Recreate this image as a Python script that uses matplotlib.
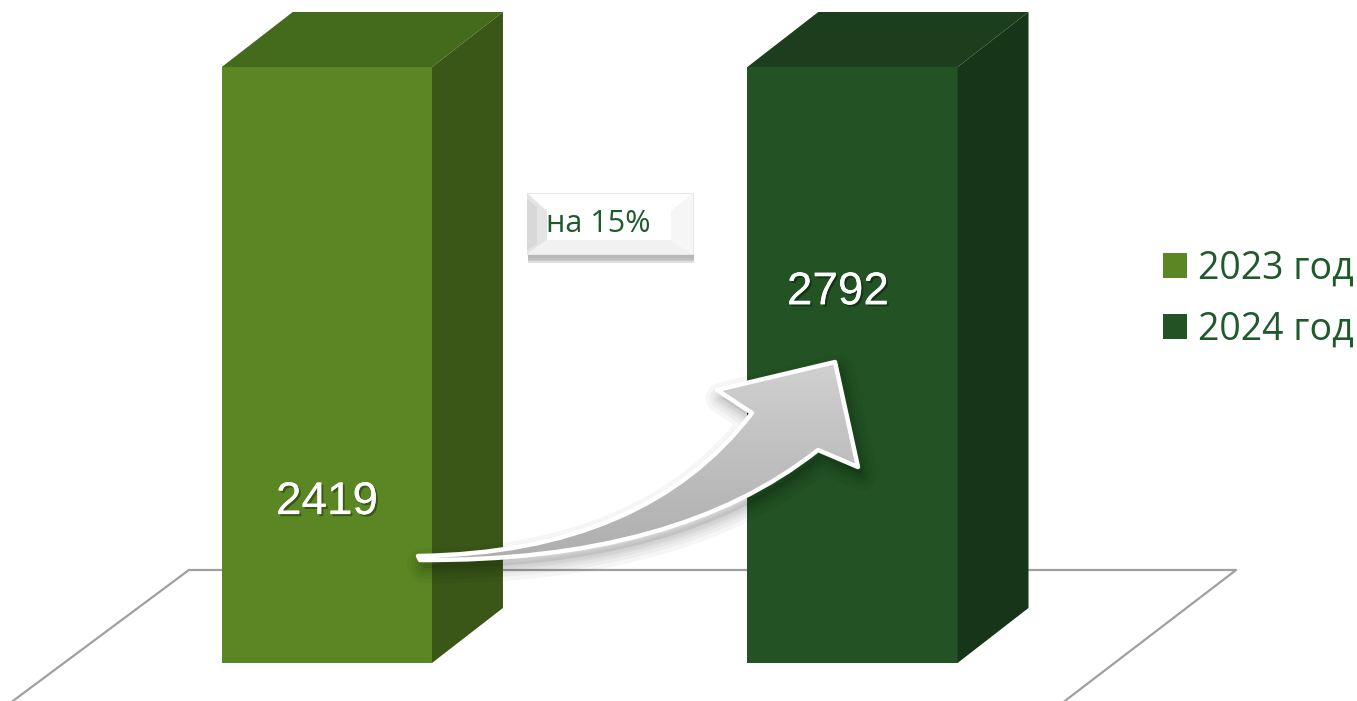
import numpy as np
import matplotlib
matplotlib.use("Agg")
import matplotlib.pyplot as plt
from matplotlib.patches import Polygon, Rectangle, Patch, PathPatch
from matplotlib.path import Path
import matplotlib.patheffects as pe

# data
years = ["2023 год", "2024 год"]
values = [2419, 2792]
growth_label = "на 15%"

front_colors = ["#5a8724", "#235224"]
top_colors = ["#446a1c", "#1d3e1c"]
side_colors = ["#3a5717", "#173519"]
text_green = "#1f5a2b"

plt.rcParams["font.family"] = ["Open Sans", "DejaVu Sans"]

fig = plt.figure(figsize=(13.57, 7.01), dpi=100)
ax = fig.add_axes([0, 0, 1, 1])
ax.set_xlim(-0.622, 1.960)
ax.set_ylim(-0.0638, 1.1124)
ax.axis("off")

# 100% stacked columns with one series per category -> every column is full height
shares = [v / v for v in values]
pos = np.arange(len(values))
width = 0.4
ddx, ddy = 0.135, 0.0923   # depth of the 3d box

# floor
floor_back_y = 0.156
ax.plot([-0.5975, -0.2626, 1.730, 1.404], [-0.0638, floor_back_y, floor_back_y, -0.0638],
        color="#a0a0a0", lw=1.6, zorder=1)

for i, (x, h) in enumerate(zip(pos, shares)):
    l, r = x - width / 2, x + width / 2
    ax.add_patch(Rectangle((l, 0), width, h, facecolor=front_colors[i], edgecolor="none", zorder=3))
    ax.add_patch(Polygon([(l, h), (r, h), (r + ddx, h + ddy), (l + ddx, h + ddy)],
                         closed=True, facecolor=top_colors[i], edgecolor="none", zorder=3))
    ax.add_patch(Polygon([(r, 0), (r + ddx, ddy), (r + ddx, h + ddy), (r, h)],
                         closed=True, facecolor=side_colors[i], edgecolor="none", zorder=3))

label_pos = [(0.0, 0.27), (-0.028, 0.622)]
for i, v in enumerate(values):
    dx, fy = label_pos[i]
    ax.text(pos[i] + dx, shares[i] * fy, str(v), color="white", fontsize=33,
            family=["Liberation Sans", "DejaVu Sans"], ha="center", va="center", zorder=6,
            path_effects=[pe.withSimplePatchShadow(offset=(1.5, -1.5), shadow_rgbFace="black", alpha=0.35),
                          pe.Normal()])

# legend
handles = [Patch(facecolor=c, edgecolor="none") for c in front_colors]
leg = ax.legend(handles, years, loc="center left", bbox_to_anchor=(0.857, 0.573),
                frameon=False, fontsize=27, handlelength=0.64, handleheight=0.64,
                handletextpad=0.3, labelspacing=0.62, borderpad=0, borderaxespad=0)
for t in leg.get_texts():
    t.set_color(text_green)

# decorations in pixel space: growth arrow and badge
deco = fig.add_axes([0, 0, 1, 1], zorder=5)
deco.set_xlim(0, 1357)
deco.set_ylim(701, 0)
deco.axis("off")
deco.patch.set_alpha(0)

verts = [(418, 556), (645, 553), (752, 413),
         (717, 390), (835, 362), (858, 467), (818, 450),
         (677, 562), (420, 560), (418, 556)]
codes = [Path.MOVETO, Path.CURVE3, Path.CURVE3,
         Path.LINETO, Path.LINETO, Path.LINETO, Path.LINETO,
         Path.CURVE3, Path.CURVE3, Path.CLOSEPOLY]
arrow = Path(verts, codes)

# soft shadow
sh = Path([(x + 4, y + 8) for x, y in verts], codes)
for lw in [22, 16, 11, 7, 4]:
    deco.add_patch(PathPatch(sh, facecolor="none", edgecolor="black", lw=lw, alpha=0.035,
                             joinstyle="round", zorder=1))
deco.add_patch(PathPatch(sh, facecolor="black", edgecolor="none", alpha=0.08, zorder=1))

grad = np.linspace(0, 1, 256).reshape(-1, 1)
img = deco.imshow(grad, cmap=matplotlib.colors.LinearSegmentedColormap.from_list(
    "g", ["#d2d2d2", "#bebebe", "#adadad"]), extent=(410, 870, 570, 355),
    aspect="auto", zorder=2)
arrow_patch = PathPatch(arrow, facecolor="none", edgecolor="none")
deco.add_patch(arrow_patch)
img.set_clip_path(arrow_patch)
deco.add_patch(PathPatch(arrow, facecolor="none", edgecolor="white", lw=3.2,
                         joinstyle="round", zorder=3))

# badge
bl, bt, br, bb = 527, 193, 693, 254
for k, a in enumerate([0.04, 0.06, 0.09, 0.12]):
    deco.add_patch(Rectangle((bl + 1, bt + 4 + k * 1.5), br - bl, bb - bt, facecolor="black",
                             edgecolor="none", alpha=a, zorder=6))
deco.add_patch(Rectangle((bl, bt), br - bl, bb - bt, facecolor="white", edgecolor="#e8e8e8",
                         lw=0.8, zorder=7))
deco.add_patch(Polygon([(bl, bt), (bl + 20, bt + 18), (bl + 20, bb - 14), (bl, bb)],
                       closed=True, facecolor="#e4e4e4", edgecolor="none", zorder=7))
deco.add_patch(Polygon([(bl, bt + 6), (bl + 10, bt + 14), (bl + 10, bb - 10), (bl, bb - 4)],
                       closed=True, facecolor="#d8d8d8", edgecolor="none", zorder=7))
deco.add_patch(Polygon([(bl, bb), (bl + 20, bb - 14), (br - 22, bb - 14), (br, bb)],
                       closed=True, facecolor="#f1f1f1", edgecolor="none", zorder=7))
deco.add_patch(Polygon([(br, bt), (br - 22, bt + 18), (br - 22, bb - 14), (br, bb)],
                       closed=True, facecolor="#f6f6f6", edgecolor="none", zorder=7))
deco.text(546, 224, growth_label, color=text_green, fontsize=22, ha="left", va="center", zorder=8)

fig.savefig("out.png", dpi=100)
